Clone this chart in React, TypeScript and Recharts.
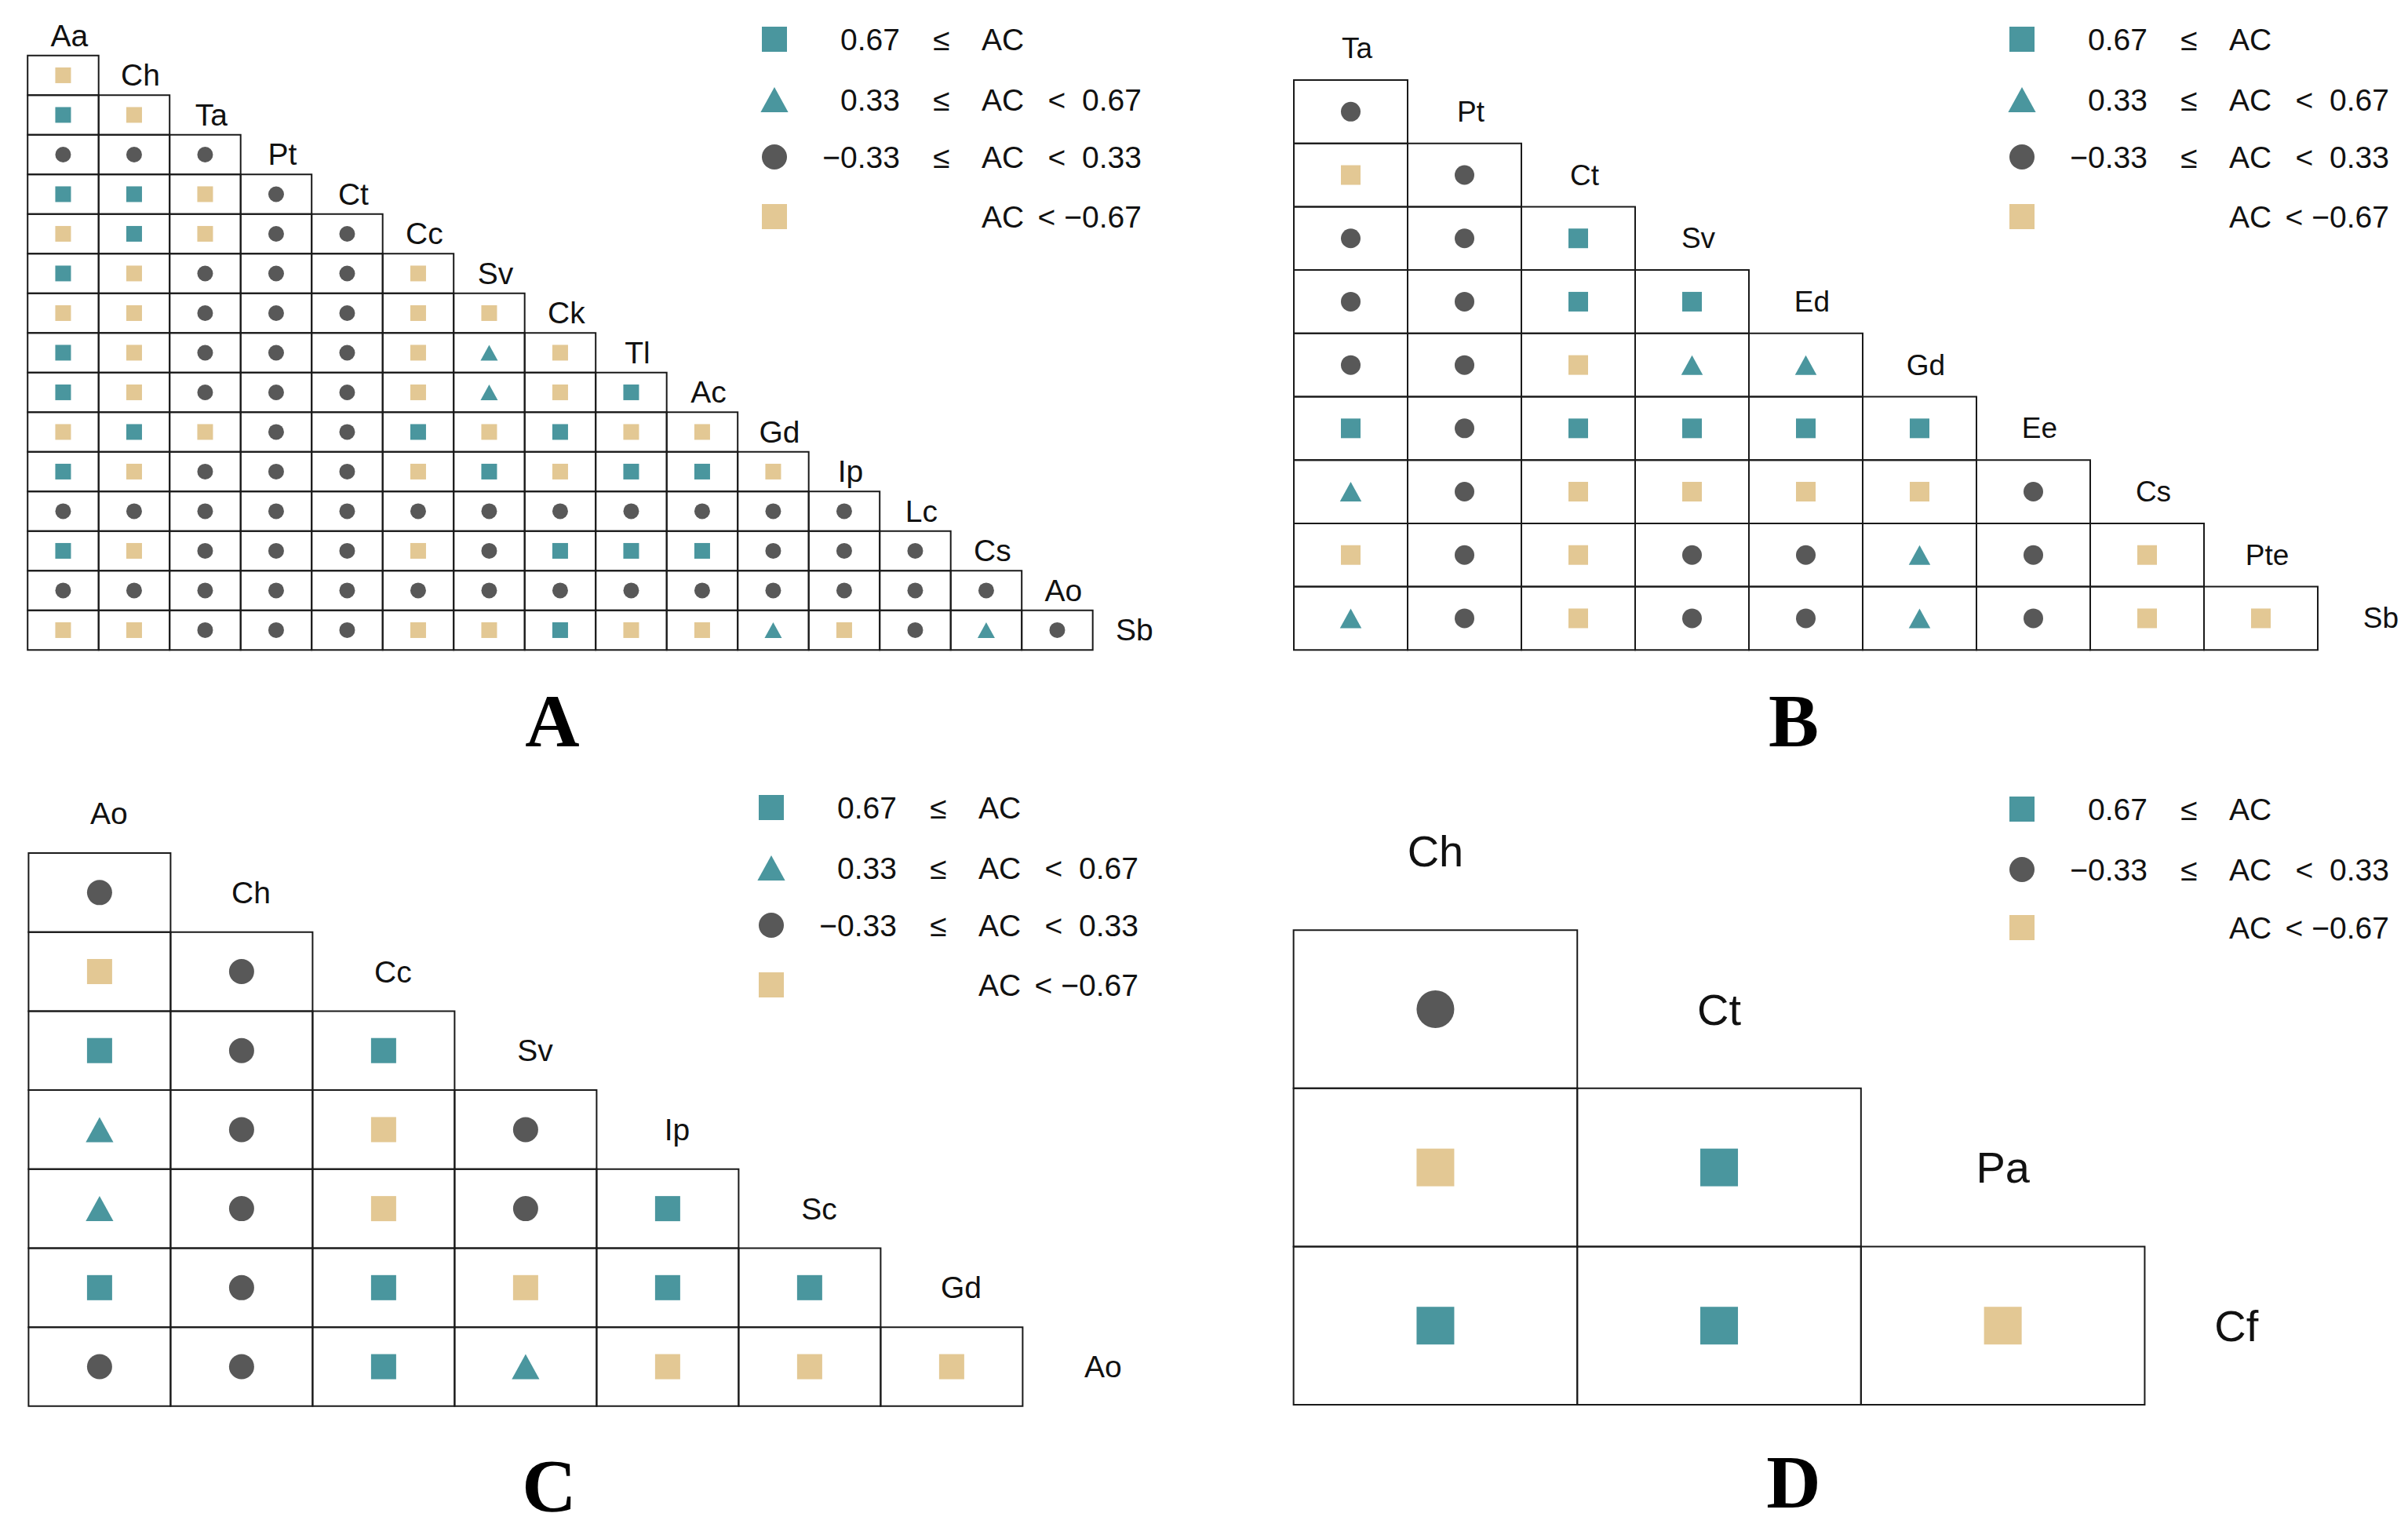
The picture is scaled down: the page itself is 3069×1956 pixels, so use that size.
import { ReferenceArea, Scatter, ScatterChart, XAxis, YAxis } from "recharts";

const TEAL = "#4A969E";
const TAN = "#E3C894";
const GRAY = "#585858";
const SANS = "'Liberation Sans', Arial, sans-serif";

// classes: S = 0.67 <= AC, T = 0.33 <= AC < 0.67, C = -0.33 <= AC < 0.33, N = AC < -0.67
const classCodes = ["S", "T", "C", "N"];
const classLower = ["0.67", "0.33", "−0.33", ""];
const classUpper = ["", "0.67", "0.33", "−0.67"];

const labelsA = ["Aa", "Ch", "Ta", "Pt", "Ct", "Cc", "Sv", "Ck", "Tl", "Ac", "Gd", "Ip", "Lc", "Cs", "Ao", "Sb"];
const matrixA = [
  "N",
  "SN",
  "CCC",
  "SSNC",
  "NSNCC",
  "SNCCCN",
  "NNCCCNN",
  "SNCCCNTN",
  "SNCCCNTNS",
  "NSNCCSNSNN",
  "SNCCCNSNSSN",
  "CCCCCCCCCCCC",
  "SNCCCNCSSSCCC",
  "CCCCCCCCCCCCCC",
  "NNCCCNNSNNTNCTC",
];

const labelsB = ["Ta", "Pt", "Ct", "Sv", "Ed", "Gd", "Ee", "Cs", "Pte", "Sb"];
const matrixB = ["C", "NC", "CCS", "CCSS", "CCNTT", "SCSSSS", "TCNNNNC", "NCNCCTCN", "TCNCCTCNN"];

const labelsC = ["Ao", "Ch", "Cc", "Sv", "Ip", "Sc", "Gd", "Ao"];
const matrixC = ["C", "NC", "SCS", "TCNC", "TCNCS", "SCSNSS", "CCSTNNN"];

const labelsD = ["Ch", "Ct", "Pa", "Cf"];
const matrixD = ["C", "NS", "SSN"];

const legendFull = ["S", "T", "C", "N"];
const legendShort = ["S", "C", "N"];

function Marker({ code, cx, cy, size }: { code: string; cx: number; cy: number; size: number }) {
  if (code === "C") return <ellipse cx={cx} cy={cy} rx={size / 2} ry={size / 2} fill={GRAY} />;
  if (code === "T") {
    const w = size * 1.1;
    const h = size;
    return (
      <polygon
        points={`${cx - w / 2},${cy + h / 2} ${cx + w / 2},${cy + h / 2} ${cx},${cy - h / 2}`}
        fill={TEAL}
      />
    );
  }
  return <rect x={cx - size / 2} y={cy - size / 2} width={size} height={size} fill={code === "S" ? TEAL : TAN} />;
}

type PanelProps = {
  labels: string[];
  rows: string[];
  left: number;
  top: number;
  cellW: number;
  cellH: number;
  marker: number;
  font: number;
  labelDx: number;
  lastLabelDx?: number;
  xMax?: number;
};

function TriPanel({ labels, rows, left, top, cellW, cellH, marker, font, labelDx, lastLabelDx = 0, xMax }: PanelProps) {
  const n = rows.length;
  const x0 = -0.4;
  const x1 = xMax ?? n + 1;
  const y0 = -1.4;
  const y1 = n + 0.3;
  const cells = rows.flatMap((r, i) => r.split("").map((code, j) => ({ x: j + 0.5, y: i + 0.5, code, i, j })));
  const labelData = labels.map((name, k) => ({
    x: k + 0.5 + (labelDx + (k === n ? lastLabelDx : 0)) / cellW,
    y: k - 0.5,
    name,
  }));
  return (
    <div style={{ position: "absolute", left: left + x0 * cellW, top: top + y0 * cellH }}>
      <ScatterChart
        width={(x1 - x0) * cellW}
        height={(y1 - y0) * cellH}
        margin={{ top: 0, right: 0, bottom: 0, left: 0 }}
      >
        <XAxis type="number" dataKey="x" domain={[x0, x1]} hide allowDataOverflow />
        <YAxis type="number" dataKey="y" domain={[y0, y1]} hide reversed allowDataOverflow />
        {cells.map((c) => (
          <ReferenceArea
            key={`${c.i}-${c.j}`}
            x1={c.j}
            x2={c.j + 1}
            y1={c.i}
            y2={c.i + 1}
            fill="none"
            fillOpacity={0}
            stroke="#1a1a1a"
            strokeWidth={2}
          />
        ))}
        {classCodes.map((code) => (
          <Scatter
            key={code}
            data={cells.filter((c) => c.code === code)}
            isAnimationActive={false}
            shape={(p: any) => <Marker code={code} cx={p.cx} cy={p.cy} size={marker} />}
          />
        ))}
        <Scatter
          data={labelData}
          isAnimationActive={false}
          shape={(p: any) => (
            <text
              x={p.cx}
              y={p.cy}
              textAnchor="middle"
              dominantBaseline="central"
              fontFamily={SANS}
              fontSize={font}
              fill="#111"
            >
              {p.payload.name}
            </text>
          )}
        />
      </ScatterChart>
    </div>
  );
}

function LegendBox({ dx, ys, codes }: { dx: number; ys: number[]; codes: string[] }) {
  return (
    <g fontFamily={SANS} fontSize={39} fill="#111">
      {codes.map((code, i) => {
        const k = classCodes.indexOf(code);
        const y = ys[i];
        const lo = classLower[k];
        const hi = classUpper[k];
        return (
          <g key={code}>
            <Marker code={code} cx={987 + dx} cy={y} size={32} />
            {lo && (
              <>
                <text x={1147 + dx} y={y} textAnchor="end" dominantBaseline="central">
                  {lo}
                </text>
                <text x={1200 + dx} y={y} textAnchor="middle" dominantBaseline="central">
                  ≤
                </text>
              </>
            )}
            <text x={1251 + dx} y={y} textAnchor="start" dominantBaseline="central">
              AC
            </text>
            {hi && (
              <>
                <text x={(lo ? 1347 : 1334) + dx} y={y} textAnchor="middle" dominantBaseline="central">
                  {"<"}
                </text>
                <text x={1455 + dx} y={y} textAnchor="end" dominantBaseline="central">
                  {hi}
                </text>
              </>
            )}
          </g>
        );
      })}
    </g>
  );
}

export default function App() {
  return (
    <div
      style={{
        position: "absolute",
        left: 0,
        top: 0,
        width: 3069,
        height: 1956,
        overflow: "hidden",
        background: "#fff",
      }}
    >
      <svg width={3069} height={1956} style={{ position: "absolute", left: 0, top: 0 }}>
        <LegendBox dx={0} ys={[50, 127, 200, 276]} codes={legendFull} />
        <LegendBox dx={1590} ys={[50, 127, 200, 276]} codes={legendFull} />
        <LegendBox dx={-4} ys={[1029, 1106, 1179, 1255]} codes={legendFull} />
        <LegendBox dx={1590} ys={[1031, 1108, 1182]} codes={legendShort} />
        <g fontFamily="'Liberation Serif', 'Times New Roman', serif" fontWeight="bold" fontSize={96} fill="#000">
          <text x={704} y={951} textAnchor="middle">A</text>
          <text x={2286} y={951} textAnchor="middle">B</text>
          <text x={700} y={1926} textAnchor="middle">C</text>
          <text x={2286} y={1921} textAnchor="middle">D</text>
        </g>
      </svg>
      <TriPanel labels={labelsA} rows={matrixA} left={35} top={70.7} cellW={90.5} cellH={50.5} marker={20} font={39} labelDx={8} />
      <TriPanel labels={labelsB} rows={matrixB} left={1648.5} top={102} cellW={145} cellH={80.7} marker={25} font={37} labelDx={8} xMax={9.8} />
      <TriPanel labels={labelsC} rows={matrixC} left={36} top={1087} cellW={181} cellH={100.7} marker={32} font={39} labelDx={12} />
      <TriPanel labels={labelsD} rows={matrixD} left={1649} top={1185} cellW={361.6} cellH={201.6} marker={48} font={56} labelDx={0} lastLabelDx={-64} xMax={3.7} />
    </div>
  );
}
